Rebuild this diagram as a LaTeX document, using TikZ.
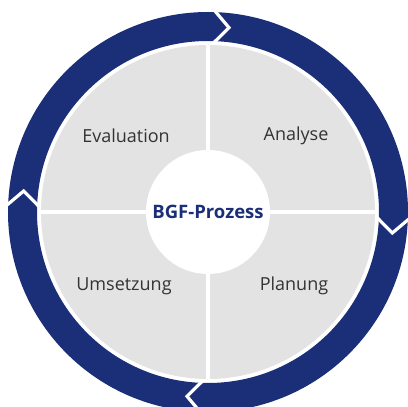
\documentclass[tikz,border=0pt]{standalone}
\usepackage{fontspec}
\setmainfont{Open Sans}
\usetikzlibrary{calc}
\definecolor{bgfblue}{HTML}{1B2F78}
\definecolor{bgfgrey}{HTML}{E3E3E3}
\definecolor{bgftext}{HTML}{333333}
\begin{document}
\begin{tikzpicture}[x=1pt,y=1pt,
  lbl/.style={font=\fontsize{18}{21}\selectfont, text=bgftext},
  gapline/.style={white, line width=3.2pt, line join=miter},
  divider/.style={white, line width=4pt}]
\useasboundingbox (0,0) rectangle (408,407);
\coordinate (c) at (208,195);
% outer ring
\fill[bgfblue, even odd rule] (c) circle[radius=200] (c) circle[radius=171];
% chevron gaps (clockwise arrows)
\foreach \a in {90,0,-90,180}{
  \draw[gapline] ($(c)+(\a-1.5:203)$) -- ($(c)+(\a-6.5:185.5)$) -- ($(c)+(\a-1.5:168)$);
}
% grey disk
\fill[bgfgrey] (c) circle[radius=167];
\draw[divider] ($(c)+(-170,0)$) -- ($(c)+(170,0)$);
\draw[divider] ($(c)+(0,-170)$) -- ($(c)+(0,170)$);
% centre
\node[circle, fill=white, minimum size=124pt, inner sep=0pt] (centre) at (c) {};
\node[font=\bfseries\fontsize{18.5}{21}\selectfont, text=bgfblue] (title) at (c) {BGF-Prozess};
\node[lbl] (eval) at (126,271) {Evaluation};
\node[lbl] (anal) at (296,271) {Analyse};
\node[lbl] (ums) at (124,121) {Umsetzung};
\node[lbl] (plan) at (294,121) {Planung};
\end{tikzpicture}
\end{document}
